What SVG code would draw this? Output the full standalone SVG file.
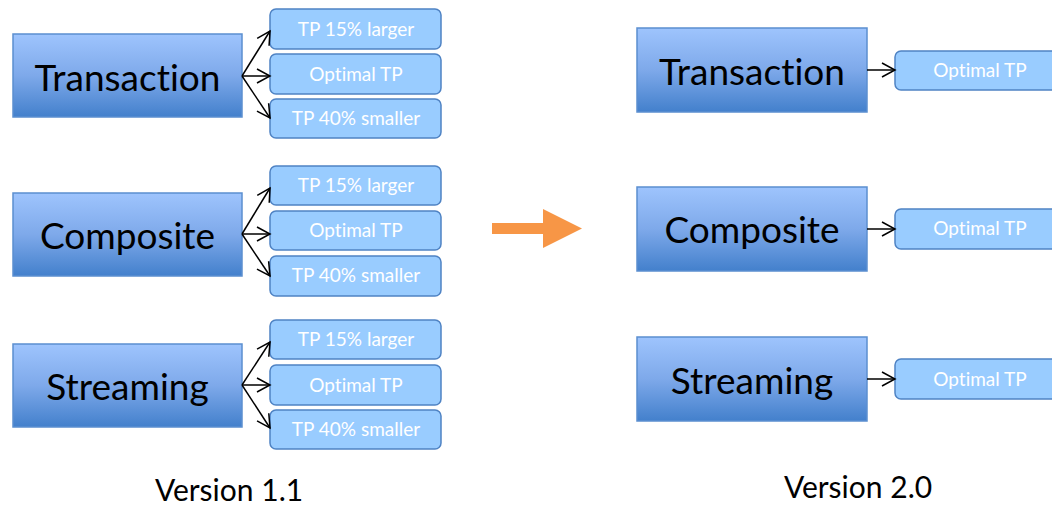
<svg xmlns="http://www.w3.org/2000/svg" width="1052" height="506" viewBox="0 0 1052 506">
<defs>
<linearGradient id="bg" x1="0" y1="0" x2="0" y2="1">
<stop offset="0" stop-color="#9ec4fd"/>
<stop offset="0.5" stop-color="#7ea9ea"/>
<stop offset="1" stop-color="#4380cc"/>
</linearGradient>
<marker id="ah" markerWidth="18" markerHeight="18" refX="15" refY="9" orient="auto" markerUnits="userSpaceOnUse">
<path d="M2,2 L15,9 L2,16" fill="none" stroke="#000" stroke-width="1.5"/>
</marker>
<style>
.big{fill:url(#bg);stroke:#5b8fd0;stroke-width:1.5}
.sm{fill:#99ccff;stroke:#4f83c4;stroke-width:1.5}
text{font-variant-ligatures:none}
.bt{font-family:Lato,"Open Sans",sans-serif;font-size:37px;fill:#000;text-anchor:middle}
.st{font-family:Lato,"Open Sans",sans-serif;font-size:19px;fill:#fff;text-anchor:middle}
.vt{font-family:Lato,"Open Sans",sans-serif;font-size:30px;fill:#000;text-anchor:middle}
.cn{stroke:#000;stroke-width:1.5;fill:none;marker-end:url(#ah)}
</style>
</defs>
<rect width="1052" height="506" fill="#fff"/>

<g id="left-transaction">
<rect class="big" x="13" y="34" width="229" height="83"/>
<text class="bt" x="127.5" y="91">Transaction</text>
</g>
<g id="lt-15"><rect class="sm" x="270" y="9" width="171" height="40" rx="6"/><text class="st" x="356" y="36">TP 15% larger</text></g>
<g id="lt-opt"><rect class="sm" x="270" y="54" width="171" height="40" rx="6"/><text class="st" x="356" y="81">Optimal TP</text></g>
<g id="lt-40"><rect class="sm" x="270" y="99" width="171" height="39" rx="6"/><text class="st" x="356" y="125">TP 40% smaller</text></g>

<g id="left-composite">
<rect class="big" x="13" y="193" width="229" height="83"/>
<text class="bt" x="127.5" y="249">Composite</text>
</g>
<g id="lc-15"><rect class="sm" x="270" y="166" width="171" height="39" rx="6"/><text class="st" x="356" y="192">TP 15% larger</text></g>
<g id="lc-opt"><rect class="sm" x="270" y="211" width="171" height="39" rx="6"/><text class="st" x="356" y="237">Optimal TP</text></g>
<g id="lc-40"><rect class="sm" x="270" y="256" width="171" height="40" rx="6"/><text class="st" x="356" y="282">TP 40% smaller</text></g>

<g id="left-streaming">
<rect class="big" x="13" y="344" width="229" height="83"/>
<text class="bt" x="127.5" y="400">Streaming</text>
</g>
<g id="ls-15"><rect class="sm" x="270" y="320" width="171" height="39" rx="6"/><text class="st" x="356" y="346">TP 15% larger</text></g>
<g id="ls-opt"><rect class="sm" x="270" y="365" width="171" height="40" rx="6"/><text class="st" x="356" y="392">Optimal TP</text></g>
<g id="ls-40"><rect class="sm" x="270" y="410" width="171" height="39" rx="6"/><text class="st" x="356" y="436">TP 40% smaller</text></g>

<g id="right-transaction">
<rect class="big" x="637" y="28" width="230" height="84"/>
<text class="bt" x="752" y="85">Transaction</text>
</g>
<g id="rt-opt"><rect class="sm" x="895" y="51" width="175" height="39" rx="6"/><text class="st" x="980" y="77">Optimal TP</text></g>

<g id="right-composite">
<rect class="big" x="637" y="187" width="230" height="84"/>
<text class="bt" x="752" y="243">Composite</text>
</g>
<g id="rc-opt"><rect class="sm" x="895" y="209" width="175" height="40" rx="6"/><text class="st" x="980" y="235">Optimal TP</text></g>

<g id="right-streaming">
<rect class="big" x="637" y="337" width="230" height="84"/>
<text class="bt" x="752" y="394">Streaming</text>
</g>
<g id="rs-opt"><rect class="sm" x="895" y="359" width="175" height="40" rx="6"/><text class="st" x="980" y="386">Optimal TP</text></g>

<g id="connectors">
<path class="cn" d="M242,76 L270,31"/>
<path class="cn" d="M242,76 L270,76"/>
<path class="cn" d="M242,76 L270,118"/>
<path class="cn" d="M242,234 L270,188"/>
<path class="cn" d="M242,234 L270,234"/>
<path class="cn" d="M242,234 L270,276"/>
<path class="cn" d="M242,385 L270,342"/>
<path class="cn" d="M242,385 L270,385"/>
<path class="cn" d="M242,385 L270,428"/>
<path class="cn" d="M867,70 L895,70"/>
<path class="cn" d="M867,229 L895,229"/>
<path class="cn" d="M867,379 L895,379"/>
</g>

<g id="orange-arrow">
<path d="M492,223 L543,223 L543,209 L582,228.5 L543,248 L543,234 L492,234 Z" fill="#f79646"/>
</g>

<g id="labels">
<text class="vt" x="229" y="501">Version 1.1</text>
<text class="vt" x="858" y="498">Version 2.0</text>
</g>
</svg>
